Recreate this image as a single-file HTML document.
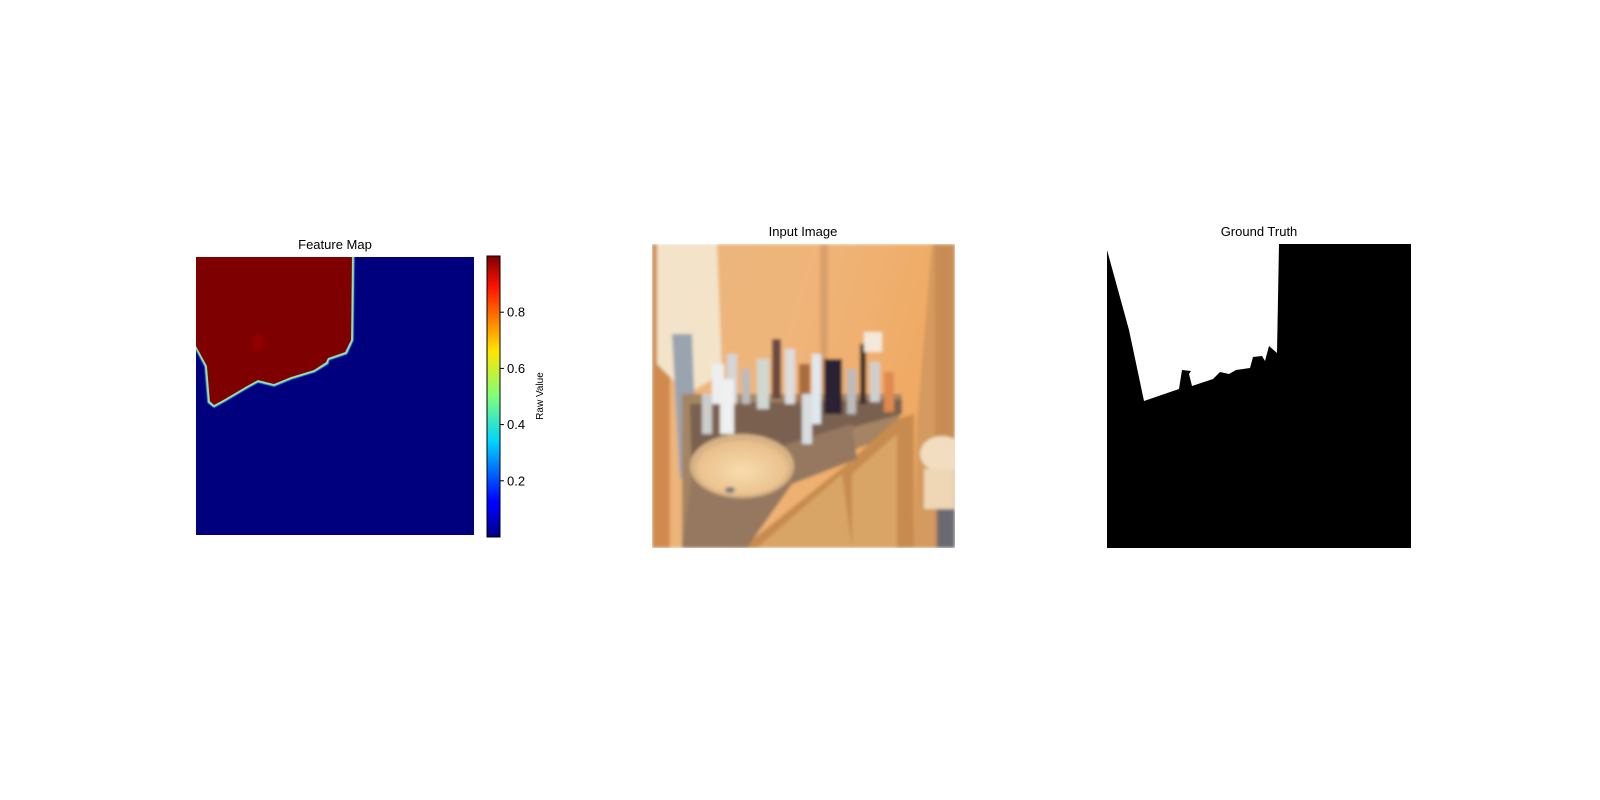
<!DOCTYPE html>
<html><head><meta charset="utf-8"><style>
body{margin:0;background:#fff;}
svg{display:block;font-family:"Liberation Sans","DejaVu Sans",sans-serif;}
</style></head><body>
<svg width="1600" height="800" viewBox="0 0 1600 800">
<defs>
<linearGradient id="jet" x1="0" y1="1" x2="0" y2="0">
<stop offset="0" stop-color="#00007f"/><stop offset="0.11" stop-color="#0000ff"/><stop offset="0.125" stop-color="#0000ff"/>
<stop offset="0.34" stop-color="#00d4ff"/><stop offset="0.5" stop-color="#7dff7a"/><stop offset="0.66" stop-color="#ffe600"/>
<stop offset="0.89" stop-color="#ff1300"/><stop offset="1" stop-color="#7f0000"/>
</linearGradient>
<linearGradient id="wall" x1="0" y1="0" x2="1" y2="0.3">
<stop offset="0" stop-color="#e9b57c"/><stop offset="0.5" stop-color="#efb57a"/><stop offset="1" stop-color="#f0a860"/>
</linearGradient>
<radialGradient id="sinkg" cx="0.5" cy="0.55" r="0.5"><stop offset="0" stop-color="#f8dcae"/><stop offset="1" stop-color="#e9c08c"/></radialGradient>
<filter id="blur"><feGaussianBlur stdDeviation="1.6"/></filter>
<filter id="edge"><feGaussianBlur stdDeviation="0.6"/></filter>
<clipPath id="fmclip"><rect x="196" y="257" width="278" height="278"/></clipPath>
</defs>

<!-- Feature map -->
<text x="335" y="249" text-anchor="middle" font-size="13">Feature Map</text>
<g clip-path="url(#fmclip)">
<rect x="196" y="257" width="278" height="278" fill="#00007f"/>
<g filter="url(#edge)">
<polyline points="353,250 352,340 346,353 328,359 327,363 314,371 291,378 274,385 258,381 247,387 225,400 214,406 209,402 206,366 196,347 190,345" fill="none" stroke="#1070ff" stroke-width="3.5"/>
<polyline points="353,250 352,340 346,353 328,359 327,363 314,371 291,378 274,385 258,381 247,387 225,400 214,406 209,402 206,366 196,347 190,345" fill="none" stroke="#40ffc0" stroke-width="2"/>
<polyline points="353,250 352,340 346,353 328,359 327,363 314,371 291,378 274,385 258,381 247,387 225,400 214,406 209,402 206,366 196,347 190,345" fill="none" stroke="#ffd000" stroke-width="0.8"/>
</g>
<polygon points="190,250 352,250 351,340 345,352 328,358 326,362 314,370 291,377 274,384 258,380 247,386 225,399 214,405 210,401 207,366 196,346 190,344" fill="#7f0000"/>
<ellipse cx="258" cy="342" rx="6" ry="8" fill="#930000" filter="url(#blur)"/>
</g>
<g>
<rect x="487" y="256" width="13" height="281" fill="url(#jet)" stroke="#000" stroke-width="1"/>
<g id="cbticks"></g>
<text transform="translate(543,396) rotate(-90)" text-anchor="middle" font-size="10">Raw Value</text>
</g>

<!-- Input image -->
<text x="803" y="236" text-anchor="middle" font-size="13">Input Image</text>
<g>
<svg x="652" y="244" width="303" height="304" viewBox="0 0 303 304">
<g filter="url(#blur)">
<rect width="303" height="304" fill="url(#wall)"/>
<rect x="0" y="0" width="18" height="304" fill="#d08a50"/>
<polygon points="5,0 65,0 70,130 35,150 5,120" fill="#f3e3c8"/>
<polygon points="20,90 40,90 45,230 28,235" fill="#9aa3b0"/>
<rect x="168" y="0" width="8" height="150" fill="#d9a06a"/>
<polygon points="280,0 303,0 303,304 262,304 265,180" fill="#d49a5f"/>
<rect x="283" y="0" width="20" height="304" fill="#c98c54"/>
<ellipse cx="290" cy="210" rx="22" ry="18" fill="#f2ddc0"/>
<rect x="272" y="225" width="30" height="40" fill="#efd7b5"/>
<rect x="285" y="265" width="18" height="39" fill="#6b6a72"/>
<polygon points="30,150 250,150 245,190 135,230 80,300 30,304" fill="#a48462"/>
<polygon points="38,160 250,155 250,170 140,200 40,240" fill="#7a6050"/>
<polygon points="90,304 195,220 245,175 262,170 262,304" fill="#c78b4f"/>
<polygon points="105,304 190,230 200,304" fill="#d9a566"/>
<polygon points="200,230 245,190 245,304 200,304" fill="#d9a566"/>
<polygon points="40,230 200,180 205,215 140,240 95,304 30,304" fill="#95785e"/>
<ellipse cx="90" cy="222" rx="52" ry="32" fill="#d8b285"/>
<ellipse cx="90" cy="224" rx="46" ry="27" fill="url(#sinkg)"/>
<ellipse cx="78" cy="246" rx="5" ry="3" fill="#777"/>
<rect x="60" y="120" width="12" height="40" fill="#eee"/><rect x="75" y="110" width="10" height="50" fill="#d2d6d8"/>
<rect x="90" y="125" width="8" height="35" fill="#bbb"/><rect x="105" y="115" width="12" height="50" fill="#cfd8d0"/>
<rect x="120" y="95" width="9" height="60" fill="#6a4a40"/><rect x="133" y="105" width="10" height="55" fill="#ddd"/>
<rect x="147" y="120" width="11" height="40" fill="#a86c3c"/><rect x="160" y="110" width="9" height="70" fill="#e0e8ee"/>
<rect x="172" y="115" width="18" height="55" fill="#2a2430"/><rect x="195" y="125" width="9" height="45" fill="#bbb"/>
<rect x="208" y="100" width="6" height="60" fill="#3a2a2a"/><rect x="218" y="118" width="10" height="40" fill="#cfcfcf"/>
<rect x="232" y="128" width="10" height="40" fill="#e08a50"/><rect x="212" y="88" width="18" height="20" fill="#f3e9da"/>
<rect x="50" y="150" width="10" height="40" fill="#ccc"/><rect x="68" y="135" width="14" height="55" fill="#f0f0f0"/>
<rect x="150" y="150" width="10" height="50" fill="#d8dde0"/>
</g>
</svg>
</g>

<!-- Ground truth -->
<text x="1259" y="236" text-anchor="middle" font-size="13">Ground Truth</text>
<g>
<rect x="1107" y="244" width="304" height="304" fill="#000"/>
<polygon points="1107,244 1279,244 1277,353 1269,346 1265,361 1262,356 1253,357 1250,368 1236,370 1229,374 1220,372 1213,379 1192,386 1189,374 1191,371 1182,370 1179,389 1144,401 1129,330 1107,250" fill="#fff"/>
</g>
</svg>
<script>
var cbTicks=[0.2,0.4,0.6,0.8];
var cbMin=0.0, cbMax=1.0;
(function(){
  var g=document.getElementById('cbticks');
  var y0=537,y1=256;
  function cy(v){return y0-(v-cbMin)/(cbMax-cbMin)*(y0-y1);}
  var ns='http://www.w3.org/2000/svg';
  cbTicks.forEach(function(t){
    var y=cy(t);
    var l=document.createElementNS(ns,'line');
    l.setAttribute('x1',500);l.setAttribute('x2',504);l.setAttribute('y1',y);l.setAttribute('y2',y);
    l.setAttribute('stroke','#000');
    
    
    g.appendChild(l);
    var tx=document.createElementNS(ns,'text');
    tx.setAttribute('x',507);tx.setAttribute('y',y+4.5);tx.setAttribute('font-size','13');
    tx.textContent=t.toFixed(1);
    
    
    g.appendChild(tx);
  });
})();
</script>
</body></html>
